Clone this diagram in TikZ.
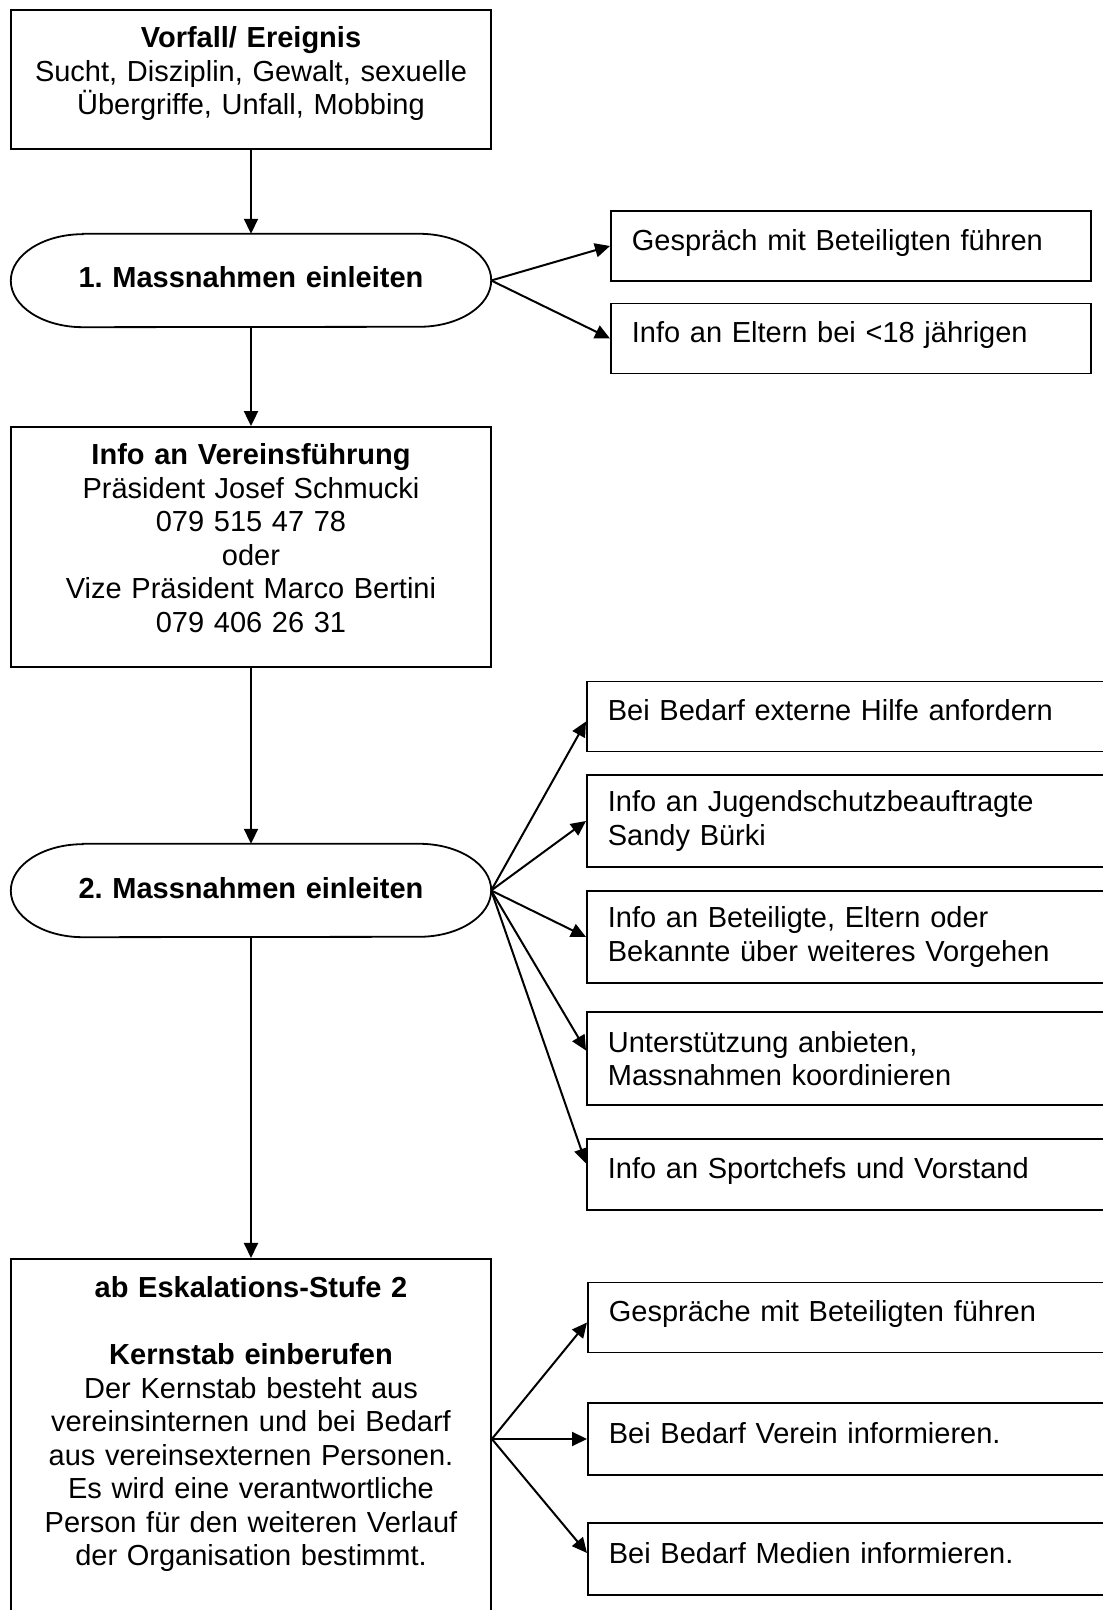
\documentclass[tikz,border=0pt]{standalone}
\usepackage{fontspec}
\setmainfont{Liberation Sans}
\usetikzlibrary{arrows.meta}
\frenchspacing

\tikzset{
    mainbox/.style={draw,line width=1.8pt,text width=440pt,align=center,inner xsep=20pt,minimum width=480pt},
    pill/.style={text width=440pt,align=center,inner xsep=20pt,minimum width=480pt,minimum height=93pt,text depth=6pt},
    sidebox/.style={draw,line width=1.8pt,text width=498pt,align=left,inner xsep=21pt,minimum height=70pt},
    onebox/.style={sidebox,text height=21pt,text depth=12pt},
    flow/.style={line width=2pt,-{Triangle[length=15pt,width=14pt]}}
}

\begin{document}
\begin{tikzpicture}[x=1pt,y=1pt,every node/.style={font=\fontsize{29}{33.5}\selectfont}]
    \useasboundingbox (0,0) rectangle (1103,1610);
    \clip (0,0) rectangle (1103,1610);
    \node[mainbox,minimum height=139pt,text depth=84pt] (vorfall) at (251,1530.5) {\textbf{Vorfall/ Ereignis}\\Sucht, Disziplin, Gewalt, sexuelle\\Übergriffe, Unfall, Mobbing};
    \node[pill] (mass1) at (251,1329.5) {\textbf{1. Massnahmen einleiten}};
    \node[mainbox,minimum height=240pt,text depth=185pt] (info) at (251,1063) {\textbf{Info an Vereinsführung}\\Präsident Josef Schmucki\\079 515 47 78\\oder\\Vize Präsident Marco Bertini\\079 406 26 31};
    \node[pill] (mass2) at (251,719.5) {\textbf{2. Massnahmen einleiten}};
    \node[mainbox,anchor=north,inner ysep=18pt] (kern) at (251,352) {\textbf{ab Eskalations-Stufe 2}\\\mbox{}\\\textbf{Kernstab einberufen}\\Der Kernstab besteht aus\\vereinsinternen und bei Bedarf\\aus vereinsexternen Personen.\\Es wird eine verantwortliche\\Person für den weiteren Verlauf\\der Organisation bestimmt.\\[20pt]\mbox{}};
    \foreach \n in {mass1,mass2}
        \draw[line width=1.8pt] ([xshift=72pt]\n.north west) -- ([xshift=-72pt]\n.north east) arc[start angle=90,end angle=-90,x radius=72pt,y radius=46.5pt] -- ([xshift=72pt]\n.south west) arc[start angle=270,end angle=90,x radius=72pt,y radius=46.5pt] -- cycle;

    \node[onebox,text width=438pt,anchor=west] (gespr) at (610,1364) {Gespräch mit Beteiligten führen};
    \node[onebox,text width=438pt,anchor=west] (eltern) at (610,1271.5) {Info an Eltern bei <18 jährigen};

    \node[onebox,anchor=west] (hilfe) at (586,893.5) {Bei Bedarf externe Hilfe anfordern};
    \node[sidebox,anchor=west,minimum height=92pt] (jugend) at (586,789) {Info an Jugendschutzbeauftragte\\Sandy Bürki};
    \node[sidebox,anchor=west,minimum height=92pt] (vorgehen) at (586,673) {Info an Beteiligte, Eltern oder\\Bekannte über weiteres Vorgehen};
    \node[sidebox,anchor=west,minimum height=93pt] (unterst) at (586,551.5) {Unterstützung anbieten,\\Massnahmen koordinieren};
    \node[onebox,anchor=west,minimum height=71pt] (sportchef) at (586,435.5) {Info an Sportchefs und Vorstand};

    \node[onebox,anchor=west] (gespr2) at (587,292.5) {Gespräche mit Beteiligten führen};
    \node[onebox,anchor=west,minimum height=72pt] (verein) at (587,171) {Bei Bedarf Verein informieren.};
    \node[onebox,anchor=west,minimum height=72pt] (medien) at (587,51) {Bei Bedarf Medien informieren.};

    \draw[flow] (vorfall.south) -- (mass1.north);
    \draw[flow] (mass1.south) -- (info.north);
    \draw[flow] (info.south) -- (mass2.north);
    \draw[flow] (mass2.south) -- (kern.north);
    \foreach \t in {gespr,eltern}
        \draw[flow] (mass1.east) -- (\t.west);
    \foreach \t/\s in {hilfe/-5,jugend/0,vorgehen/0,unterst/8,sportchef/11}
        \draw[flow] (mass2.east) -- ([yshift=\s pt]\t.west);
    \coordinate (khub) at (kern.east |- verein.west);
    \foreach \t/\s in {gespr2/-5,verein/0,medien/6}
        \draw[flow] (khub) -- ([yshift=\s pt]\t.west);
\end{tikzpicture}
\end{document}
